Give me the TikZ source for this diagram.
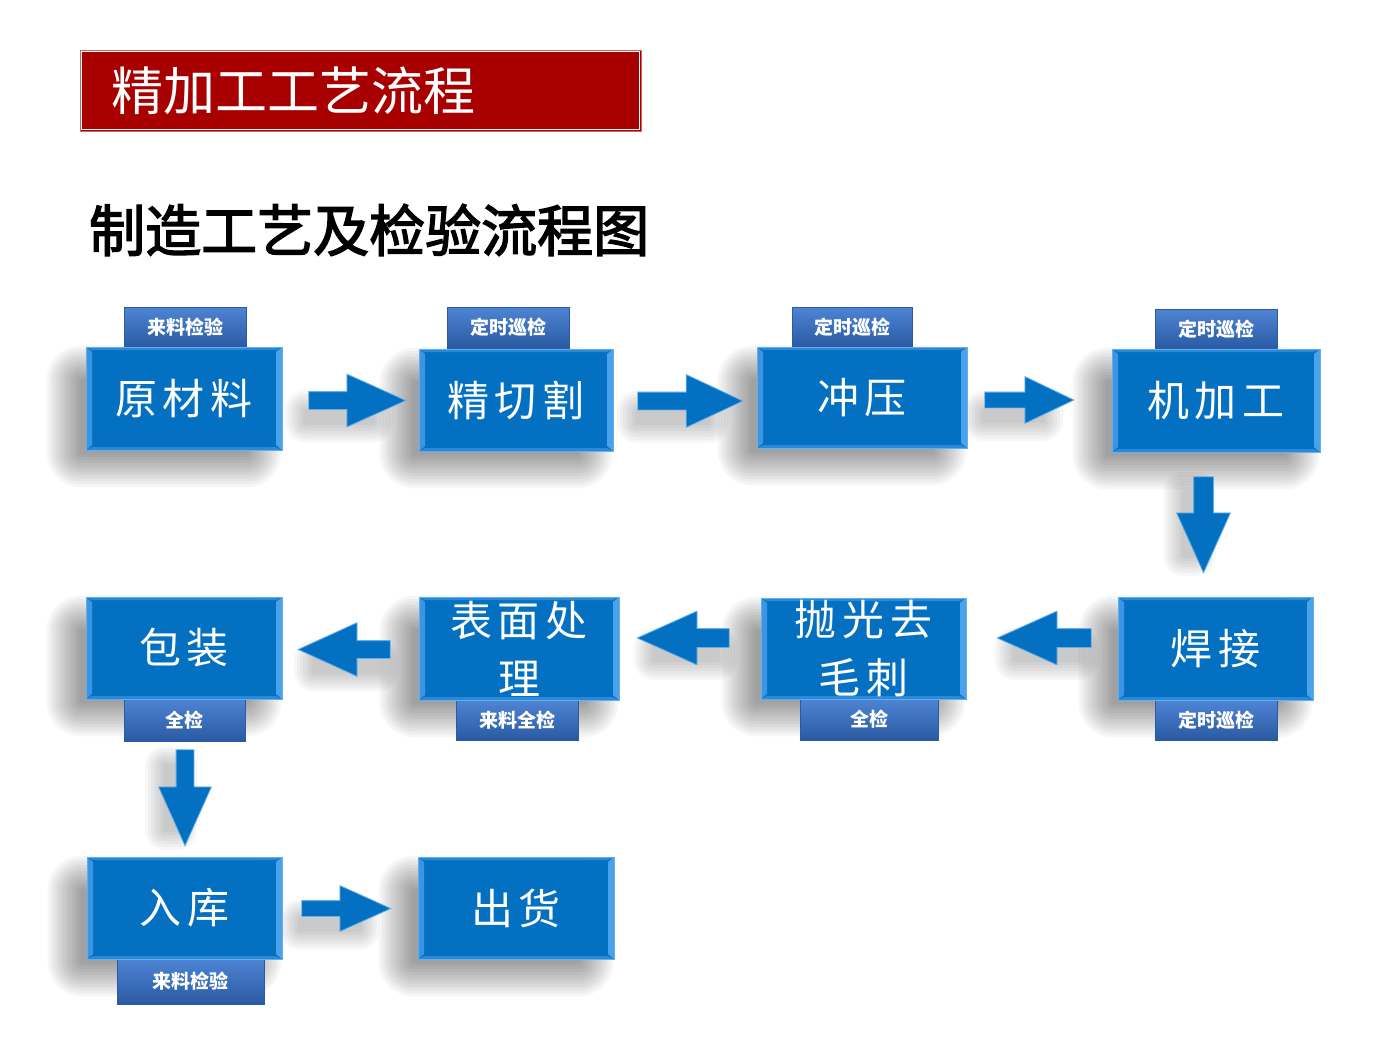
\documentclass[tikz,border=0pt]{standalone}
\usepackage{fontspec}
\newfontfamily\cjk{Noto Sans CJK SC}
\newfontfamily\cjkfb{Noto Sans CJK SC}[FakeBold=2.6]
\usetikzlibrary{shapes.arrows,calc,backgrounds}
\definecolor{boxblue}{RGB}{4,112,194}
\definecolor{bevlight}{RGB}{96,176,236}
\definecolor{bevL}{RGB}{58,150,226}
\definecolor{bevR}{RGB}{74,162,234}
\definecolor{bevT}{RGB}{44,136,216}
\definecolor{tagtop}{RGB}{78,132,212}
\definecolor{tagbot}{RGB}{42,90,162}
\definecolor{titred}{RGB}{168,0,0}
\newcommand\ksp{\hspace{6pt}}
\newcommand\dn[1]{\raisebox{-3pt}{#1}}
\newcommand\boxshadow[1]{%
  \foreach \d in {-14,-11,...,19}{%
    \pgfmathsetmacro\rr{max(\d+16,1)}%
    \fill[black,opacity=0.034,rounded corners=\rr pt]
      ($(#1.north west)+({-20-(\d)},{18-(\d)})$) rectangle
      ($(#1.south east)+({-20+(\d)},{18+(\d)})$);}}
\newcommand\softrect[5]{%
  \foreach \d in {-4,-1,...,14}{%
    \pgfmathsetmacro\rr{max(\d+6,1)}%
    \fill[black,opacity=0.03,rounded corners=\rr pt]
      ($(#1)+({#4-#2-(\d)},{#5-#3-(\d)})$) rectangle
      ($(#1)+({#4+#2+(\d)},{#5+#3+(\d)})$);}}
\begin{document}
\begin{tikzpicture}[x=1pt,y=-1pt,
  procbox/.style={rectangle, inner sep=0pt, fill=boxblue, draw=bevlight,
    line width=0.8pt, text=white, align=center,
    font=\cjk\fontsize{42}{58}\selectfont,
    path picture={
      \fill[bevL] (path picture bounding box.north west)
        -- ([shift={(6pt,-5pt)}]path picture bounding box.north west)
        -- ([shift={(6pt,5pt)}]path picture bounding box.south west)
        -- (path picture bounding box.south west) -- cycle;
      \fill[bevR] (path picture bounding box.north east)
        -- ([shift={(-6pt,-5pt)}]path picture bounding box.north east)
        -- ([shift={(-6pt,5pt)}]path picture bounding box.south east)
        -- (path picture bounding box.south east) -- cycle;
      \fill[bevT] (path picture bounding box.north west)
        -- (path picture bounding box.north east)
        -- ([shift={(-6pt,-3pt)}]path picture bounding box.north east)
        -- ([shift={(6pt,-3pt)}]path picture bounding box.north west) -- cycle;
      \fill[bevT] (path picture bounding box.south west)
        -- (path picture bounding box.south east)
        -- ([shift={(-6pt,3pt)}]path picture bounding box.south east)
        -- ([shift={(6pt,3pt)}]path picture bounding box.south west) -- cycle;
    }},
  tagbox/.style={rectangle, inner sep=0pt, top color=tagtop, bottom color=tagbot,
    draw=tagbot, line width=0.5pt, text=white,
    font=\cjk\bfseries\fontsize{19}{19}\selectfont},
  blkarrow/.style={single arrow, anchor=tail, fill=boxblue, draw=bevlight,
    line width=0.8pt, single arrow head indent=0pt},
  harrow/.style={blkarrow, inner xsep=0pt, inner ysep=#1},
  varrow/.style={blkarrow, inner ysep=0pt, inner xsep=#1, shape border rotate=270}]
\useasboundingbox (0,0) rectangle (1400,1036);

% titles
\node[fill=titred, draw=titred!60!white, line width=0.8pt, minimum width=561pt,
  minimum height=81pt, inner sep=0pt] (titlebar) at (360.5,90.5) {};
\draw[white, line width=1pt] ([shift={(2pt,-2pt)}]titlebar.north west)
  rectangle ([shift={(-2pt,2pt)}]titlebar.south east);
\node[anchor=west, text=white, inner sep=0pt, font=\cjk\fontsize{52}{52}\selectfont]
  (titletext) at (111,91) {精加工工艺流程};
\node[anchor=west, inner sep=0pt, font=\cjkfb\fontsize{56}{56}\selectfont]
  (subtitle) at (89,230) {制造工艺及检验流程图};

% tags
\node[tagbox, minimum width=122pt, minimum height=40pt] (t1) at (185,327) {来料检验};
\node[tagbox, minimum width=122pt, minimum height=41pt] (t2) at (508,327.5) {定时巡检};
\node[tagbox, minimum width=120pt, minimum height=40pt] (t3) at (852,327) {定时巡检};
\node[tagbox, minimum width=122pt, minimum height=40pt] (t4) at (1216,329) {定时巡检};
\node[tagbox, minimum width=122pt, minimum height=40pt] (t5) at (1216,720) {定时巡检};
\node[tagbox, minimum width=138pt, minimum height=41pt] (t6) at (869,719.5) {全检};
\node[tagbox, minimum width=122pt, minimum height=40pt] (t7) at (517,720) {来料全检};
\node[tagbox, minimum width=121pt, minimum height=42pt] (t8) at (184.5,720) {全检};
\node[tagbox, minimum width=147pt, minimum height=45pt] (t9) at (190.5,981.5) {来料检验};

% process boxes
\node[procbox, minimum width=196pt, minimum height=103pt] (b1) at (184,398.5) {\dn{原\ksp 材\ksp 料}};
\node[procbox, minimum width=194pt, minimum height=102pt] (b2) at (516,400) {\dn{精\ksp 切\ksp 割}};
\node[procbox, minimum width=210pt, minimum height=101pt] (b3) at (862,397.5) {\dn{冲\ksp 压}};
\node[procbox, minimum width=208pt, minimum height=103pt] (b4) at (1216,400.5) {\dn{机\ksp 加\ksp 工}};
\node[procbox, minimum width=195pt, minimum height=103pt] (b5) at (1215.5,648.5) {\dn{焊\ksp 接}};
\node[procbox, minimum width=205pt, minimum height=101pt] (b6) at (863.5,648.5) {抛\ksp 光\ksp 去\\毛\ksp 刺};
\node[procbox, minimum width=200pt, minimum height=103pt] (b7) at (519,648.5) {表\ksp 面\ksp 处\\理};
\node[procbox, minimum width=196pt, minimum height=102pt] (b8) at (184,648) {\dn{包\ksp 装}};
\node[procbox, minimum width=195pt, minimum height=102pt] (b9) at (184.5,908) {入\ksp 库};
\node[procbox, minimum width=196pt, minimum height=102pt] (b10) at (516,908) {出\ksp 货};

% block arrows (placed by their tails)
\node[harrow=8.5pt, minimum height=97pt, minimum width=52pt, single arrow head extend=17.5pt,
  single arrow tip angle=48.3] (a1) at ($(b1.east)+(26,2)$) {};
\node[harrow=8.5pt, minimum height=105pt, minimum width=52pt, single arrow head extend=17.5pt,
  single arrow tip angle=50] (a2) at ($(b2.east)+(24,1)$) {};
\node[harrow=7.5pt, minimum height=89pt, minimum width=46pt, single arrow head extend=15.5pt,
  single arrow tip angle=51.2] (a3) at ($(b3.east)+(17,2.5)$) {};
\node[varrow=9.5pt, minimum height=96pt, minimum width=53pt, single arrow head extend=17pt,
  single arrow tip angle=48.4] (a4) at ($(b4.south)+(-12.5,24)$) {};
\node[harrow=9pt, minimum height=94pt, minimum width=53pt, single arrow head extend=17.5pt,
  single arrow tip angle=48.4, shape border rotate=180] (a5) at ($(b5.west)+(-26,-10.5)$) {};
\node[harrow=9pt, minimum height=92pt, minimum width=53pt, single arrow head extend=17.5pt,
  single arrow tip angle=48.4, shape border rotate=180] (a6) at ($(b6.west)+(-31,-10.5)$) {};
\node[harrow=8.5pt, minimum height=92pt, minimum width=53pt, single arrow head extend=18pt,
  single arrow tip angle=49.1, shape border rotate=180] (a7) at ($(b7.west)+(-28,1)$) {};
\node[varrow=8.5pt, minimum height=96pt, minimum width=52pt, single arrow head extend=17.5pt,
  single arrow tip angle=48.3] (a8) at ($(b8.south)+(1,50)$) {};
\node[harrow=7.5pt, minimum height=89pt, minimum width=45pt, single arrow head extend=15pt,
  single arrow tip angle=48.5] (a9) at ($(b9.east)+(19,0.5)$) {};

% background and shadows
\begin{scope}[on background layer]
  \fill[white] (0,0) rectangle (1400,1036);
  \foreach \b in {b1,b2,b3,b4,b5,b6,b7,b8,b9,b10}{\boxshadow{\b}}
  \softrect{a1.center}{40}{12}{-8}{16}
  \softrect{a2.center}{42}{12}{-8}{16}
  \softrect{a3.center}{36}{11}{-8}{16}
  \softrect{a4.center}{12}{38}{-14}{10}
  \softrect{a5.center}{38}{12}{-8}{16}
  \softrect{a6.center}{38}{12}{-8}{16}
  \softrect{a7.center}{38}{12}{-8}{16}
  \softrect{a8.center}{12}{38}{-14}{10}
  \softrect{a9.center}{36}{11}{-8}{16}
\end{scope}
\end{tikzpicture}
\end{document}
